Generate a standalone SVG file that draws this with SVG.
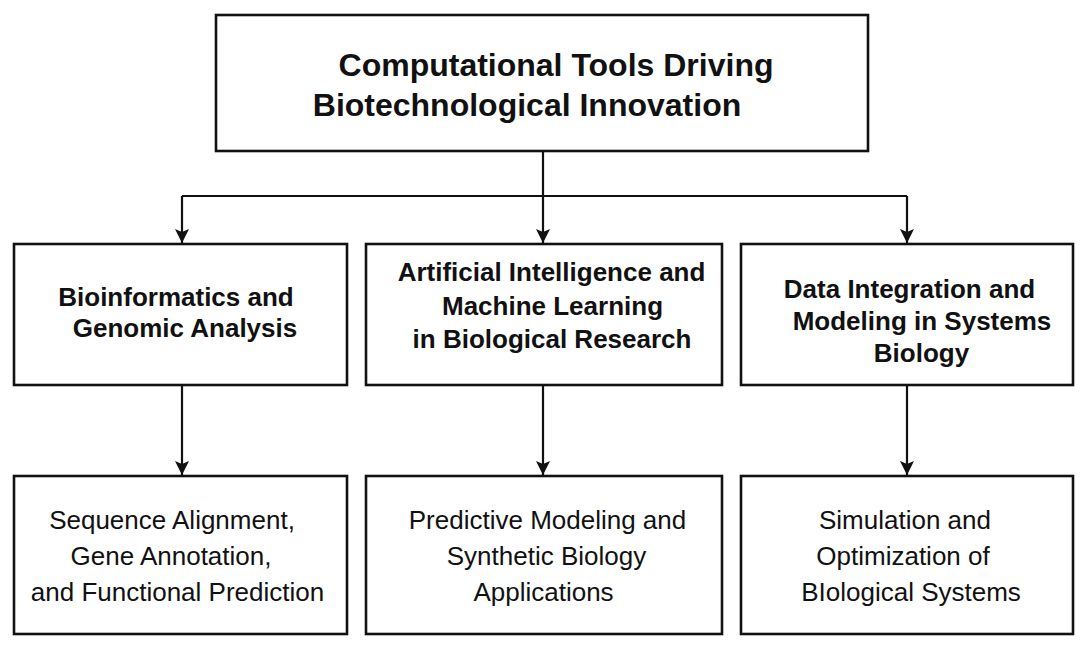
<svg xmlns="http://www.w3.org/2000/svg" width="1090" height="646" viewBox="0 0 1090 646">
<defs>
<style>
.box{fill:#fff;stroke:#111;stroke-width:2.6}
.edge{fill:none;stroke:#111;stroke-width:2.2}
.t{font-family:"Liberation Sans",Arial,sans-serif;fill:#111;text-anchor:middle}
.title{font-size:32px;font-weight:bold}
.b{font-size:26px;font-weight:bold}
.r{font-size:26px}
</style>
<marker id="arr" viewBox="0 0 14 14" refX="14" refY="7" markerWidth="14" markerHeight="14" markerUnits="userSpaceOnUse" orient="auto">
<path d="M0,0 L14,7 L0,14 L3,7 Z" fill="#111"/>
</marker>
</defs>
<rect width="1090" height="646" fill="#fff"/>
<g id="connectors">
<path class="edge" d="M543,151 V196"/>
<path class="edge" d="M182,196 H907"/>
<path class="edge" d="M182,196 V243" marker-end="url(#arr)"/>
<path class="edge" d="M543,196 V243" marker-end="url(#arr)"/>
<path class="edge" d="M907,196 V243" marker-end="url(#arr)"/>
<path class="edge" d="M182,385 V475" marker-end="url(#arr)"/>
<path class="edge" d="M543,385 V475" marker-end="url(#arr)"/>
<path class="edge" d="M907,385 V475" marker-end="url(#arr)"/>
</g>
<g id="root">
<rect class="box" x="216" y="15" width="652" height="136"/>
<text class="t title" x="556" y="76">Computational Tools Driving</text>
<text class="t title" x="527" y="116">Biotechnological Innovation</text>
</g>
<g id="bioinformatics">
<rect class="box" x="14" y="244" width="333" height="141"/>
<text class="t b" x="176" y="306">Bioinformatics and</text>
<text class="t b" x="185" y="337">Genomic Analysis</text>
</g>
<g id="ai-ml">
<rect class="box" x="366" y="244" width="356" height="141"/>
<text class="t b" x="551.5" y="281">Artificial Intelligence and</text>
<text class="t b" x="552.5" y="315">Machine Learning</text>
<text class="t b" x="552" y="348">in Biological Research</text>
</g>
<g id="data-integration">
<rect class="box" x="741" y="244" width="332" height="141"/>
<text class="t b" x="909.5" y="298">Data Integration and</text>
<text class="t b" x="922" y="330">Modeling in Systems</text>
<text class="t b" x="921.5" y="362">Biology</text>
</g>
<g id="sequence">
<rect class="box" x="14" y="476" width="333" height="158"/>
<text class="t r" x="172" y="529">Sequence Alignment,</text>
<text class="t r" x="171" y="565">Gene Annotation,</text>
<text class="t r" x="177.5" y="601">and Functional Prediction</text>
</g>
<g id="predictive">
<rect class="box" x="366" y="476" width="356" height="158"/>
<text class="t r" x="547.5" y="529">Predictive Modeling and</text>
<text class="t r" x="546.5" y="565">Synthetic Biology</text>
<text class="t r" x="543.5" y="601">Applications</text>
</g>
<g id="simulation">
<rect class="box" x="741" y="476" width="332" height="158"/>
<text class="t r" x="905" y="529">Simulation and</text>
<text class="t r" x="903" y="565">Optimization of</text>
<text class="t r" x="911" y="601">BIological Systems</text>
</g>
</svg>
